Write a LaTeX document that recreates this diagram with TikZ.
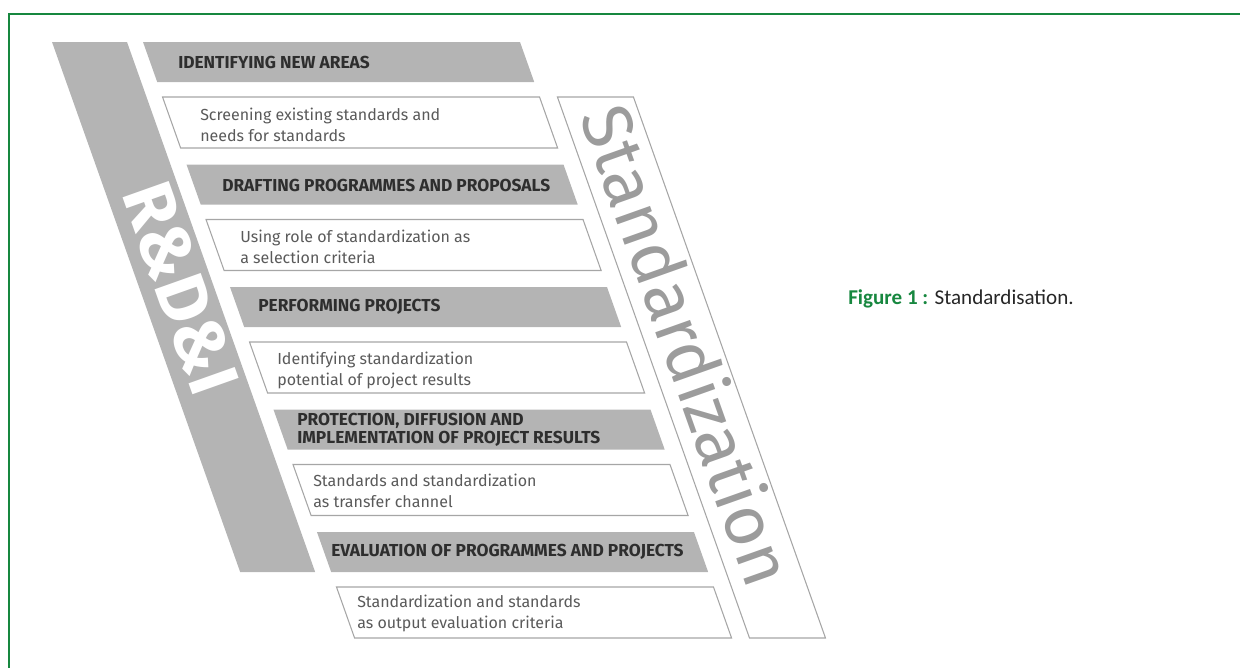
\documentclass[tikz,border=0pt]{standalone}
\usepackage{fontspec}
\setmainfont{Fira Sans}
\newfontfamily\capfont{Carlito}
\usetikzlibrary{positioning}
\definecolor{framegreen}{HTML}{17873F}
\definecolor{bargray}{HTML}{B4B4B4}
\definecolor{linegray}{HTML}{A6A6A6}
\definecolor{notegray}{HTML}{5A5A5A}
\definecolor{stdgray}{HTML}{9C9C9C}

\begin{document}
\begin{tikzpicture}[x=0.75pt, y=-0.75pt,
  headbar/.style={fill=bargray},
  notebox/.style={draw=linegray, line width=0.8pt, fill=white},
  headtext/.style={anchor=west, inner sep=0pt, align=left, text=black!82,
    font=\fontsize{13}{13.5}\selectfont\bfseries},
  notetext/.style={anchor=west, inner sep=0pt, align=left, text=notegray,
    font=\fontsize{12}{15.75}\selectfont},
  bandtext/.style={rotate=-70.45, inner sep=0pt}
]
  \useasboundingbox (0,0) rectangle (1240,668);
  \draw[framegreen, line width=1.2pt] (1240,14) -- (9,14) -- (9,668);

  % slanted bands and bars, drawn as rectangles under an x slant
  \begin{scope}[xslant=-0.355]
    \fill[bargray] (37.1,42) rectangle (112.1,572);
    \draw[linegray, line width=0.8pt] (523,97) rectangle (599,638);
    \fill[headbar] (128.1,42) rectangle (505.1,82);
    \draw[notebox] (128.1,97) rectangle (505.1,148);
    \fill[headbar] (128.1,164.5) rectangle (505.1,204.5);
    \draw[notebox] (128.1,219.5) rectangle (505.1,270.5);
    \fill[headbar] (128.1,287) rectangle (505.1,327);
    \draw[notebox] (128.1,342) rectangle (505.1,393);
    \fill[headbar] (128.1,409.5) rectangle (505.1,449.5);
    \draw[notebox] (128.1,464.5) rectangle (505.1,515.5);
    \fill[headbar] (128.1,532) rectangle (505.1,572);
    \draw[notebox] (128.1,587) rectangle (505.1,638);
  \end{scope}

  \node[bandtext, text=white, font=\fontsize{53}{53}\selectfont\bfseries] (rdi) at (181,288) {R\&D\&I};
  \node[bandtext, text=stdgray, font=\fontsize{52.5}{52.5}\selectfont] (stdz) at (689,345) {Standardization};

  % headings
  \node[headtext] (identify) at (178,62) {IDENTIFYING NEW AREAS};
  \node[headtext] (drafting) at (222,185) {DRAFTING PROGRAMMES AND PROPOSALS};
  \node[headtext] (perform) at (258,307) {PERFORMING PROJECTS};
  \node[headtext] (protect) at (297,430) {PROTECTION, DIFFUSION AND\\IMPLEMENTATION OF PROJECT RESULTS};
  \node[headtext] (evaluate) at (331,552) {EVALUATION OF PROGRAMMES AND PROJECTS};

  % notes under each heading
  \node[notetext] (screening) at (200,124.5) {Screening existing standards and\\needs for standards};
  \node[notetext] (selection) at (240,247) {Using role of standardization as\\a selection criteria};
  \node[notetext] (potential) at (277,370) {Identifying standardization\\potential of project results};
  \node[notetext] (transfer) at (313,490.5) {Standards and standardization\\as transfer channel};
  \node[notetext] (output) at (357,613) {Standardization and standards\\as output evaluation criteria};

  \node[anchor=west, inner sep=0pt, text=black!85, font=\capfont\fontsize{15.8}{15.8}\selectfont] (caption) at (848,299)
    {\textcolor{framegreen}{\bfseries Figure 1 :} Standardisation.};
\end{tikzpicture}
\end{document}
